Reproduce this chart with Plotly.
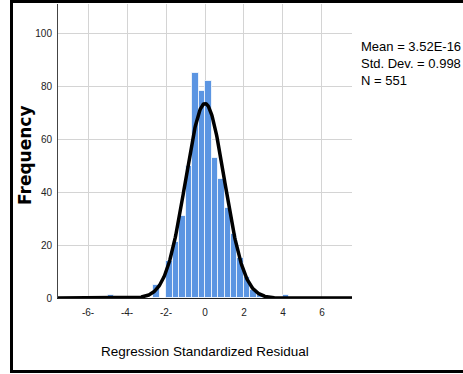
import numpy as np
import plotly.graph_objects as go

# Histogram data (bin width = 1/3)
bin_width = 1.0 / 3.0
bin_left = [-5.0, -8/3, -2.0, -5/3, -4/3, -1.0, -2/3, -1/3, 0.0, 1/3, 2/3, 1.0, 4/3, 5/3, 2.0, 7/3, 8/3, 4.0]
counts = [1, 5, 14, 21, 31, 50, 85, 78, 82, 53, 45, 34, 24, 15, 8, 3, 1, 1]

# Summary statistics
mean_val = 3.52e-16
std_val = 0.998
n_val = 551

x_tick_vals = [-6, -4, -2, 0, 2, 4, 6]
x_tick_text = ["-6-", "-4-", "-2-", "0", "2", "4", "6"]
y_tick_vals = [0, 20, 40, 60, 80, 100]

sans = "Liberation Sans, Arial, sans-serif"

centers = [b + bin_width / 2 for b in bin_left]

fig = go.Figure()
fig.add_trace(go.Bar(
    x=centers, y=counts, width=bin_width,
    marker=dict(color="#5b95e2", line=dict(color="rgba(255,255,255,0.75)", width=1)),
    hoverinfo="skip", showlegend=False,
))

xs = np.linspace(-7.54, 7.54, 600)
ys = n_val * bin_width * np.exp(-0.5 * ((xs - mean_val) / std_val) ** 2) / (std_val * np.sqrt(2 * np.pi))
fig.add_trace(go.Scatter(x=xs, y=ys, mode="lines", line=dict(color="black", width=3.5),
                         hoverinfo="skip", showlegend=False))

W, H = 463, 374
L, R, T, B = 58, 111, 4, 76
pw, ph = W - L - R, H - T - B

def px_x(p):
    return (p - L) / pw

def px_y(p):
    return (H - B - p) / ph

fig.update_layout(
    width=W, height=H,
    margin=dict(l=L, r=R, t=T, b=B),
    paper_bgcolor="white", plot_bgcolor="white",
    bargap=0,
    font=dict(family=sans, size=10, color="#222222"),
    xaxis=dict(range=[-7.54, 7.54], tickvals=x_tick_vals, ticktext=x_tick_text,
               showgrid=True, gridcolor="#d4d4d4", gridwidth=1,
               zeroline=False, showline=True, linecolor="#222222", linewidth=1,
               ticks="outside", ticklen=5, tickcolor="rgba(0,0,0,0)",
               tickfont=dict(family=sans, size=10, color="#222222")),
    yaxis=dict(range=[0, 111], tickvals=y_tick_vals,
               showgrid=True, gridcolor="#d4d4d4", gridwidth=1,
               zeroline=False, showline=True, linecolor="#444444", linewidth=1,
               ticks="outside", ticklen=3, tickcolor="rgba(0,0,0,0)",
               tickfont=dict(family=sans, size=10, color="#222222")),
    shapes=[dict(type="rect", xref="paper", yref="paper",
                 x0=px_x(11.5), x1=px_x(470), y0=px_y(371.5), y1=px_y(1.5),
                 line=dict(color="black", width=3), layer="above")],
    annotations=[
        dict(xref="paper", yref="paper", x=px_x(359), y=px_y(37), xanchor="left", yanchor="top",
             align="left", showarrow=False,
             text=f"Mean = 3.52E-16<br>Std. Dev. = {std_val}<br>N = {n_val}",
             font=dict(family=sans, size=13, color="black")),
        dict(xref="paper", yref="paper", x=0.5, y=px_y(351), xanchor="center", yanchor="middle",
             showarrow=False, text="Regression Standardized Residual",
             font=dict(family=sans, size=13.5, color="black")),
        dict(xref="paper", yref="paper", x=px_x(25), y=px_y(155), xanchor="center", yanchor="middle",
             showarrow=False, text="<b>Frequency</b>", textangle=-90,
             font=dict(family="DejaVu Sans, sans-serif", size=17, color="black")),
    ],
)

fig.write_html("out.html", config={"displayModeBar": False},
               post_script="document.body.style.margin='0';document.body.style.padding='0';")
